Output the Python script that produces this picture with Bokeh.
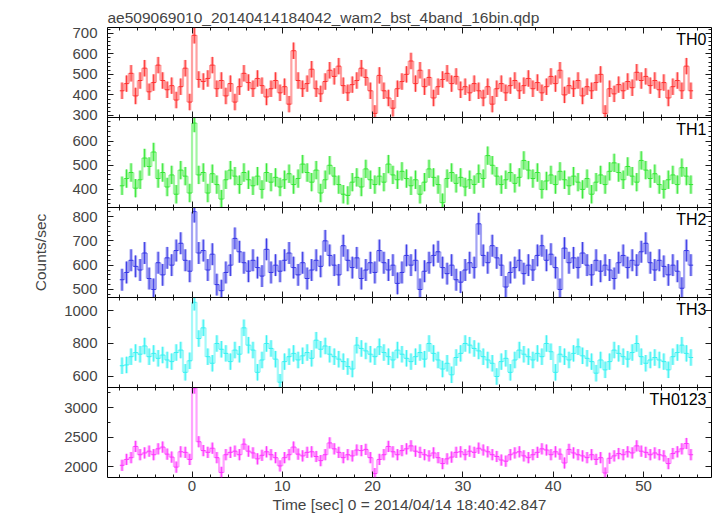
import math
from bokeh.plotting import figure
from bokeh.models import (Range1d, LinearAxis, SingleIntervalTicker, FixedTicker,
                          ColumnDataSource, Label)
from bokeh.embed import file_html
from bokeh.resources import INLINE

TITLE = "ae509069010_20140414184042_wam2_bst_4band_16bin.qdp"
X_LABEL = "Time [sec] 0 = 2014/04/14 18:40:42.847"
Y_LABEL = "Counts/sec"

# bin layout (0.5 s bins, first bin centred at -7.75 s)
BIN_WIDTH = 0.5
FIRST_BIN = -7.75
N_BINS = 127

panel_names = ["TH0", "TH1", "TH2", "TH3", "TH0123"]

th0 = [420, 455, 505, 395, 470, 530, 415, 460, 545, 470,
       425, 445, 375, 440, 530, 365, 690, 475, 465, 480,
       545, 430, 470, 395, 455, 365, 440, 505, 460, 430,
       480, 445, 390, 430, 470, 410, 440, 355, 615, 470,
       430, 455, 525, 430, 405, 465, 520, 490, 540, 445,
       410, 450, 470, 530, 485, 420, 310, 495, 420, 385,
       335, 430, 465, 500, 565, 455, 520, 440, 485, 385,
       440, 475, 505, 455, 490, 425, 440, 410, 455, 420,
       385, 440, 355, 430, 455, 410, 445, 470, 420, 445,
       480, 430, 460, 410, 440, 490, 455, 520, 400, 445,
       430, 470, 395, 440, 420, 460, 500, 310, 430, 405,
       450, 420, 465, 435, 510, 470, 490, 445, 470, 425,
       460, 385, 440, 470, 420, 540, 420]

th1 = [415, 445, 470, 405, 440, 530, 495, 555, 445, 470,
       410, 460, 380, 480, 455, 385, 675, 460, 470, 385,
       465, 420, 360, 440, 480, 455, 420, 470, 440, 415,
       455, 400, 470, 430, 450, 410, 440, 465, 420, 445,
       505, 470, 430, 480, 385, 440, 500, 455, 420, 380,
       375, 430, 450, 410, 485, 440, 420, 455, 430, 505,
       460, 440, 475, 445, 415, 440, 380, 430, 485, 450,
       420, 345, 445, 470, 425, 450, 410, 440, 420, 465,
       445, 540, 500, 455, 420, 440, 470, 425, 450, 520,
       480, 445, 470, 400, 435, 460, 420, 475, 440, 415,
       455, 430, 400, 445, 380, 430, 460, 420, 475, 510,
       470, 440, 495, 455, 430, 520, 480, 445, 465, 420,
       400, 440, 460, 420, 490, 455, 420]

th2 = [540, 570, 620, 595, 580, 650, 545, 500, 610, 560,
       630, 600, 660, 690, 620, 575, 820, 650, 660, 580,
       645, 520, 495, 570, 600, 710, 655, 610, 575, 620,
       590, 555, 665, 570, 600, 575, 620, 650, 590, 560,
       610, 545, 580, 620, 595, 700, 640, 600, 560, 680,
       620, 590, 630, 545, 580, 610, 570, 660, 610, 580,
       600, 525, 570, 640, 600, 620, 500, 575, 610, 640,
       655, 590, 565, 600, 540, 530, 580, 610, 590, 770,
       640, 610, 680, 630, 600, 510, 570, 590, 620, 565,
       600, 580, 640, 680, 620, 645, 590, 500, 670, 610,
       630, 590, 650, 600, 560, 620, 575, 600, 580, 545,
       610, 640, 590, 620, 600, 655, 690, 610, 580, 620,
       595, 560, 600, 575, 505, 660, 600]

th3 = [665, 670, 720, 745, 735, 785, 720, 740, 710, 730,
       700, 690, 745, 760, 625, 695, 1050, 830, 895, 720,
       680, 800, 765, 740, 690, 760, 735, 895, 790, 760,
       625, 700, 800, 770, 705, 565, 690, 720, 740, 700,
       725, 745, 710, 820, 765, 785, 735, 720, 705, 690,
       660, 645, 790, 770, 755, 735, 720, 780, 745, 720,
       700, 760, 735, 710, 690, 720, 745, 705, 800, 740,
       700, 645, 680, 610, 715, 740, 800, 790, 770, 755,
       720, 700, 680, 600, 690, 710, 625, 700, 760, 735,
       720, 700, 740, 720, 800, 750, 625, 735, 720, 700,
       740, 780, 725, 710, 690, 620, 700, 640, 690, 760,
       740, 720, 705, 745, 800, 720, 680, 700, 715, 700,
       690, 640, 720, 745, 790, 740, 715]

th0123 = [2020, 2120, 2150, 2340, 2200, 2230, 2260, 2200, 2300, 2330,
          2210, 2160, 1990, 2250, 2240, 2120, 3330, 2420, 2270, 2240,
          2310, 2150, 1900, 2200, 2240, 2260, 2200, 2380, 2260, 2230,
          2130, 2190, 2250, 2200, 2150, 2010, 2150, 2200, 2330, 2210,
          2180, 2240, 2250, 2170, 2100, 2200, 2400, 2300, 2240, 2150,
          2200, 2180, 2280, 2270, 2290, 2150, 1880, 2120, 2200, 2340,
          2250, 2200, 2270, 2300, 2350, 2260, 2240, 2200, 2180, 2230,
          2150, 2050, 2130, 2160, 2240, 2250, 2200, 2260, 2240, 2310,
          2280, 2250, 2200, 2170, 2110, 2090, 2200, 2230, 2250, 2180,
          2150, 2200, 2240, 2300, 2280, 2200, 2250, 2210, 2060, 2290,
          2230, 2200, 2180, 2150, 2200, 2120, 2150, 1890, 2140, 2180,
          2220, 2200, 2250, 2230, 2350, 2260, 2240, 2200, 2230, 2200,
          2180, 2050, 2220, 2250, 2300, 2390, 2200]

# 1-sigma error bar half-lengths per panel (counts/sec)
errors = [40, 38, 45, 50, 95]

colors = ["#ff3030", "#33e833", "#3535e6", "#36f2f2", "#ff33ff"]
y_ranges = [(290, 728), (325, 698), (467, 837), (533, 1079), (1814, 3339)]
y_major = [100, 100, 100, 200, 500]
y_minor_step = [20, 20, 20, 100, 250]

FONT = "Liberation Sans"
X_RANGE = (-9.36, 57.53)
FRAME_W, FRAME_H = 604, 450
N_PANELS = len(panel_names)
PANEL_H = FRAME_H / N_PANELS

series = [th0, th1, th2, th3, th0123]
time = [FIRST_BIN + BIN_WIDTH * i for i in range(N_BINS)]
px_per_x = FRAME_W / (X_RANGE[1] - X_RANGE[0])

p = figure(frame_width=FRAME_W, frame_height=FRAME_H,
           x_range=Range1d(*X_RANGE), y_range=Range1d(0, N_PANELS),
           output_backend="svg", toolbar_location=None,
           x_axis_location="below", y_axis_location=None,
           min_border_left=107, min_border_right=6, min_border_top=27,
           min_border_bottom=0)
p.grid.visible = False
p.outline_line_color = "black"
p.outline_line_width = 1
p.background_fill_color = "white"
p.border_fill_color = "white"

p.title.text = TITLE
p.title.text_font = FONT
p.title.text_font_size = "15.5px"
p.title.text_font_style = "normal"
p.title.align = "left"
p.title.standoff = 3

x_ticker = SingleIntervalTicker(interval=10, num_minor_ticks=5)


def tick_style(ax):
    ax.major_tick_in = 6
    ax.major_tick_out = 0
    ax.minor_tick_in = 3
    ax.minor_tick_out = 0
    ax.major_tick_line_color = "#1a1a1a"
    ax.minor_tick_line_color = "#1a1a1a"


# labelled time axis along the bottom
xb = p.xaxis[0]
xb.ticker = x_ticker
tick_style(xb)
xb.axis_line_color = None
xb.major_label_text_font = FONT
xb.major_label_text_font_size = "15px"
xb.major_label_standoff = 3
xb.axis_label = X_LABEL
xb.axis_label_text_font = FONT
xb.axis_label_text_font_size = "15.5px"
xb.axis_label_text_font_style = "normal"
xb.axis_label_standoff = 2


def multiples(a, b, step):
    out = []
    v = math.ceil(a / step) * step
    while v <= b:
        out.append(v)
        v += step
    return out


# one shared y-axis for the stacked panels: each panel's counts are mapped
# into its own fifth of the frame, and the tick labels show panel values
all_major, all_minor, overrides = [], [], {}
for k in range(N_PANELS):
    a, b = y_ranges[k]
    span = b - a
    base = N_PANELS - 1 - k
    for v in multiples(a, b, y_major[k]):
        pos = round(base + (v - a) / span, 6)
        all_major.append(pos)
        overrides[pos] = str(v)
    for v in multiples(a, b, y_minor_step[k]):
        all_minor.append(round(base + (v - a) / span, 6))

y_ticker = FixedTicker(ticks=all_major, minor_ticks=all_minor)

yl = LinearAxis(ticker=y_ticker, major_label_overrides=overrides)
tick_style(yl)
yl.axis_line_color = None
yl.major_label_text_font = FONT
yl.major_label_text_font_size = "15px"
yl.major_label_standoff = 10
yl.axis_label = Y_LABEL
yl.axis_label_text_font = FONT
yl.axis_label_text_font_size = "15.5px"
yl.axis_label_text_font_style = "normal"
yl.axis_label_standoff = 12
p.add_layout(yl, "left")

yr_axis = LinearAxis(ticker=y_ticker, fixed_location=X_RANGE[1])
tick_style(yr_axis)
yr_axis.axis_line_color = None
yr_axis.major_label_text_color = None
p.add_layout(yr_axis, "right")

for k, name in enumerate(panel_names):
    a, b = y_ranges[k]
    span = b - a
    rname = "p%d" % k
    p.extra_y_ranges[rname] = Range1d(a - (N_PANELS - 1 - k) * span, b + k * span)

    top_loc = N_PANELS - k
    top = LinearAxis(ticker=x_ticker, fixed_location=top_loc)
    tick_style(top)
    top.axis_line_color = "black"
    top.major_label_text_color = None
    p.add_layout(top, "above")
    if k < N_PANELS - 1:
        bot = LinearAxis(ticker=x_ticker, fixed_location=top_loc - 1)
        tick_style(bot)
        bot.axis_line_color = "black"
        bot.major_label_text_color = None
        p.add_layout(bot, "below")

    vals = series[k]
    err = errors[k]
    left_edge = [t - BIN_WIDTH / 2 for t in time]
    right_edge = [t + BIN_WIDTH / 2 for t in time]
    src = ColumnDataSource(dict(t=time, v=vals, x0=left_edge, x1=right_edge,
                                lo=[max(v - err, a) for v in vals],
                                hi=[min(v + err, b) for v in vals]))
    # soft halo + sharp core for the error bars, thin histogram steps
    p.segment(x0="t", y0="lo", x1="t", y1="hi", source=src, y_range_name=rname,
              line_color=colors[k], line_width=3.2, line_alpha=0.4)
    p.segment(x0="t", y0="lo", x1="t", y1="hi", source=src, y_range_name=rname,
              line_color=colors[k], line_width=1, line_alpha=0.95)
    p.segment(x0="x0", y0="v", x1="x1", y1="v", source=src, y_range_name=rname,
              line_color=colors[k], line_width=1)
    conn = ColumnDataSource(dict(x=right_edge[:-1], a=vals[:-1], b=vals[1:]))
    p.segment(x0="x", y0="a", x1="x", y1="b", source=conn, y_range_name=rname,
              line_color=colors[k], line_width=2.2, line_alpha=0.45)

    p.add_layout(Label(x=X_RANGE[1] - 5 / px_per_x, y=top_loc - 3 / PANEL_H,
                       text=name, text_align="right", text_baseline="top",
                       text_font=FONT, text_font_size="16px", text_color="black"))

with open("out.html", "w") as f:
    f.write(file_html(p, INLINE, title="lightcurve"))
